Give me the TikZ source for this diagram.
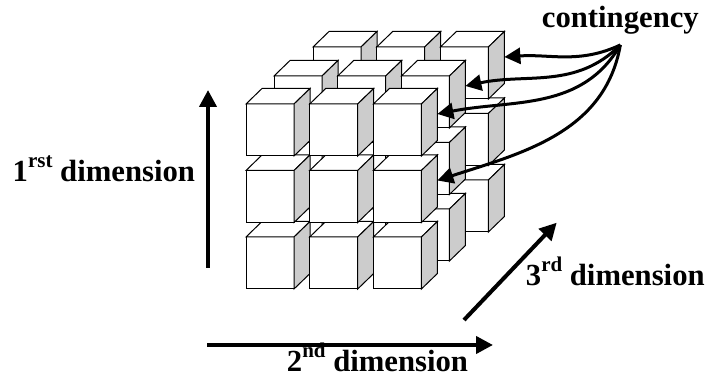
\documentclass[tikz,border=0pt]{standalone}
\usepackage{fontspec}
\setmainfont{Liberation Serif}
\usepackage{xcolor}
\usepackage{tikz}
\usetikzlibrary{arrows.meta, positioning, calc}
\definecolor{sidegray}{RGB}{204,204,204}
\newcommand{\supx}[1]{\raisebox{1ex}{\fontsize{21}{21}\selectfont #1}}
\tikzset{
  face/.style={draw=black, line width=1pt, fill=white, line join=miter},
  side/.style={face, fill=sidegray},
  lbl/.style={font=\bfseries\fontsize{30.7}{36}\selectfont, inner sep=0pt, anchor=base west},
  pics/cube/.style={code={
    \draw[face] (0,0) rectangle (48,52);
    \draw[face] (0,52) -- (16,67.5) -- (64,67.5) -- (48,52) -- cycle;
    \draw[side] (48,0) -- (64,15.5) -- (64,67.5) -- (48,52) -- cycle;
    \coordinate (-side) at (64,42);
  }},
}
\tikzstyle{dimarrow} = [line width=4pt, -{Triangle[length=17pt,width=17pt]}]
\tikzstyle{conarrow} = [line width=3pt, -{Triangle[length=16pt,width=16pt]}]

\begin{document}
\begin{tikzpicture}[x=1pt, y=1pt]
\useasboundingbox (0,0) rectangle (710,377);
% cubes, back layer first
\foreach \lay/\dx/\dy in {b/67/57, m/28/28, f/0/0}
  \foreach \r in {0,1,2}
    \foreach \c in {0,1,2}
      \pic (\lay\r\c) at ({246+63.7*\c+\dx},{88+66.5*\r+\dy}) {cube};

% the three axes
\coordinate (v0) at (208,109);
\coordinate (v1) at (208,287);
\coordinate (h0) at (207,32);
\coordinate (h1) at (493,32);
\coordinate (d0) at (464,57);
\coordinate (d1) at (556.7,154.3);
\draw[dimarrow] (v0) -- (v1);
\draw[dimarrow] (h0) -- (h1);
\draw[dimarrow] (d0) -- (d1);

\node[lbl] (dim1) at (12.5,195) {1\supx{rst} dimension};
\node[lbl] (dim2) at (286.7,5.3) {2\supx{nd} dimension};
\node[lbl] (dim3) at (525.7,91) {3\supx{rd} dimension};
\node[lbl] (cont) at (541.7,349) {contingency};
\coordinate[below=10pt of cont] (hub);

% contingency pointers
\draw[conarrow] (hub) to[out=205,in=4] (b22-side);
\draw[conarrow] (hub) to[out=225,in=12] (m22-side);
\draw[conarrow] (hub) to[out=240,in=11] (f22-side);
\draw[conarrow] (hub) to[out=260,in=18] (f12-side);
\end{tikzpicture}
\end{document}
